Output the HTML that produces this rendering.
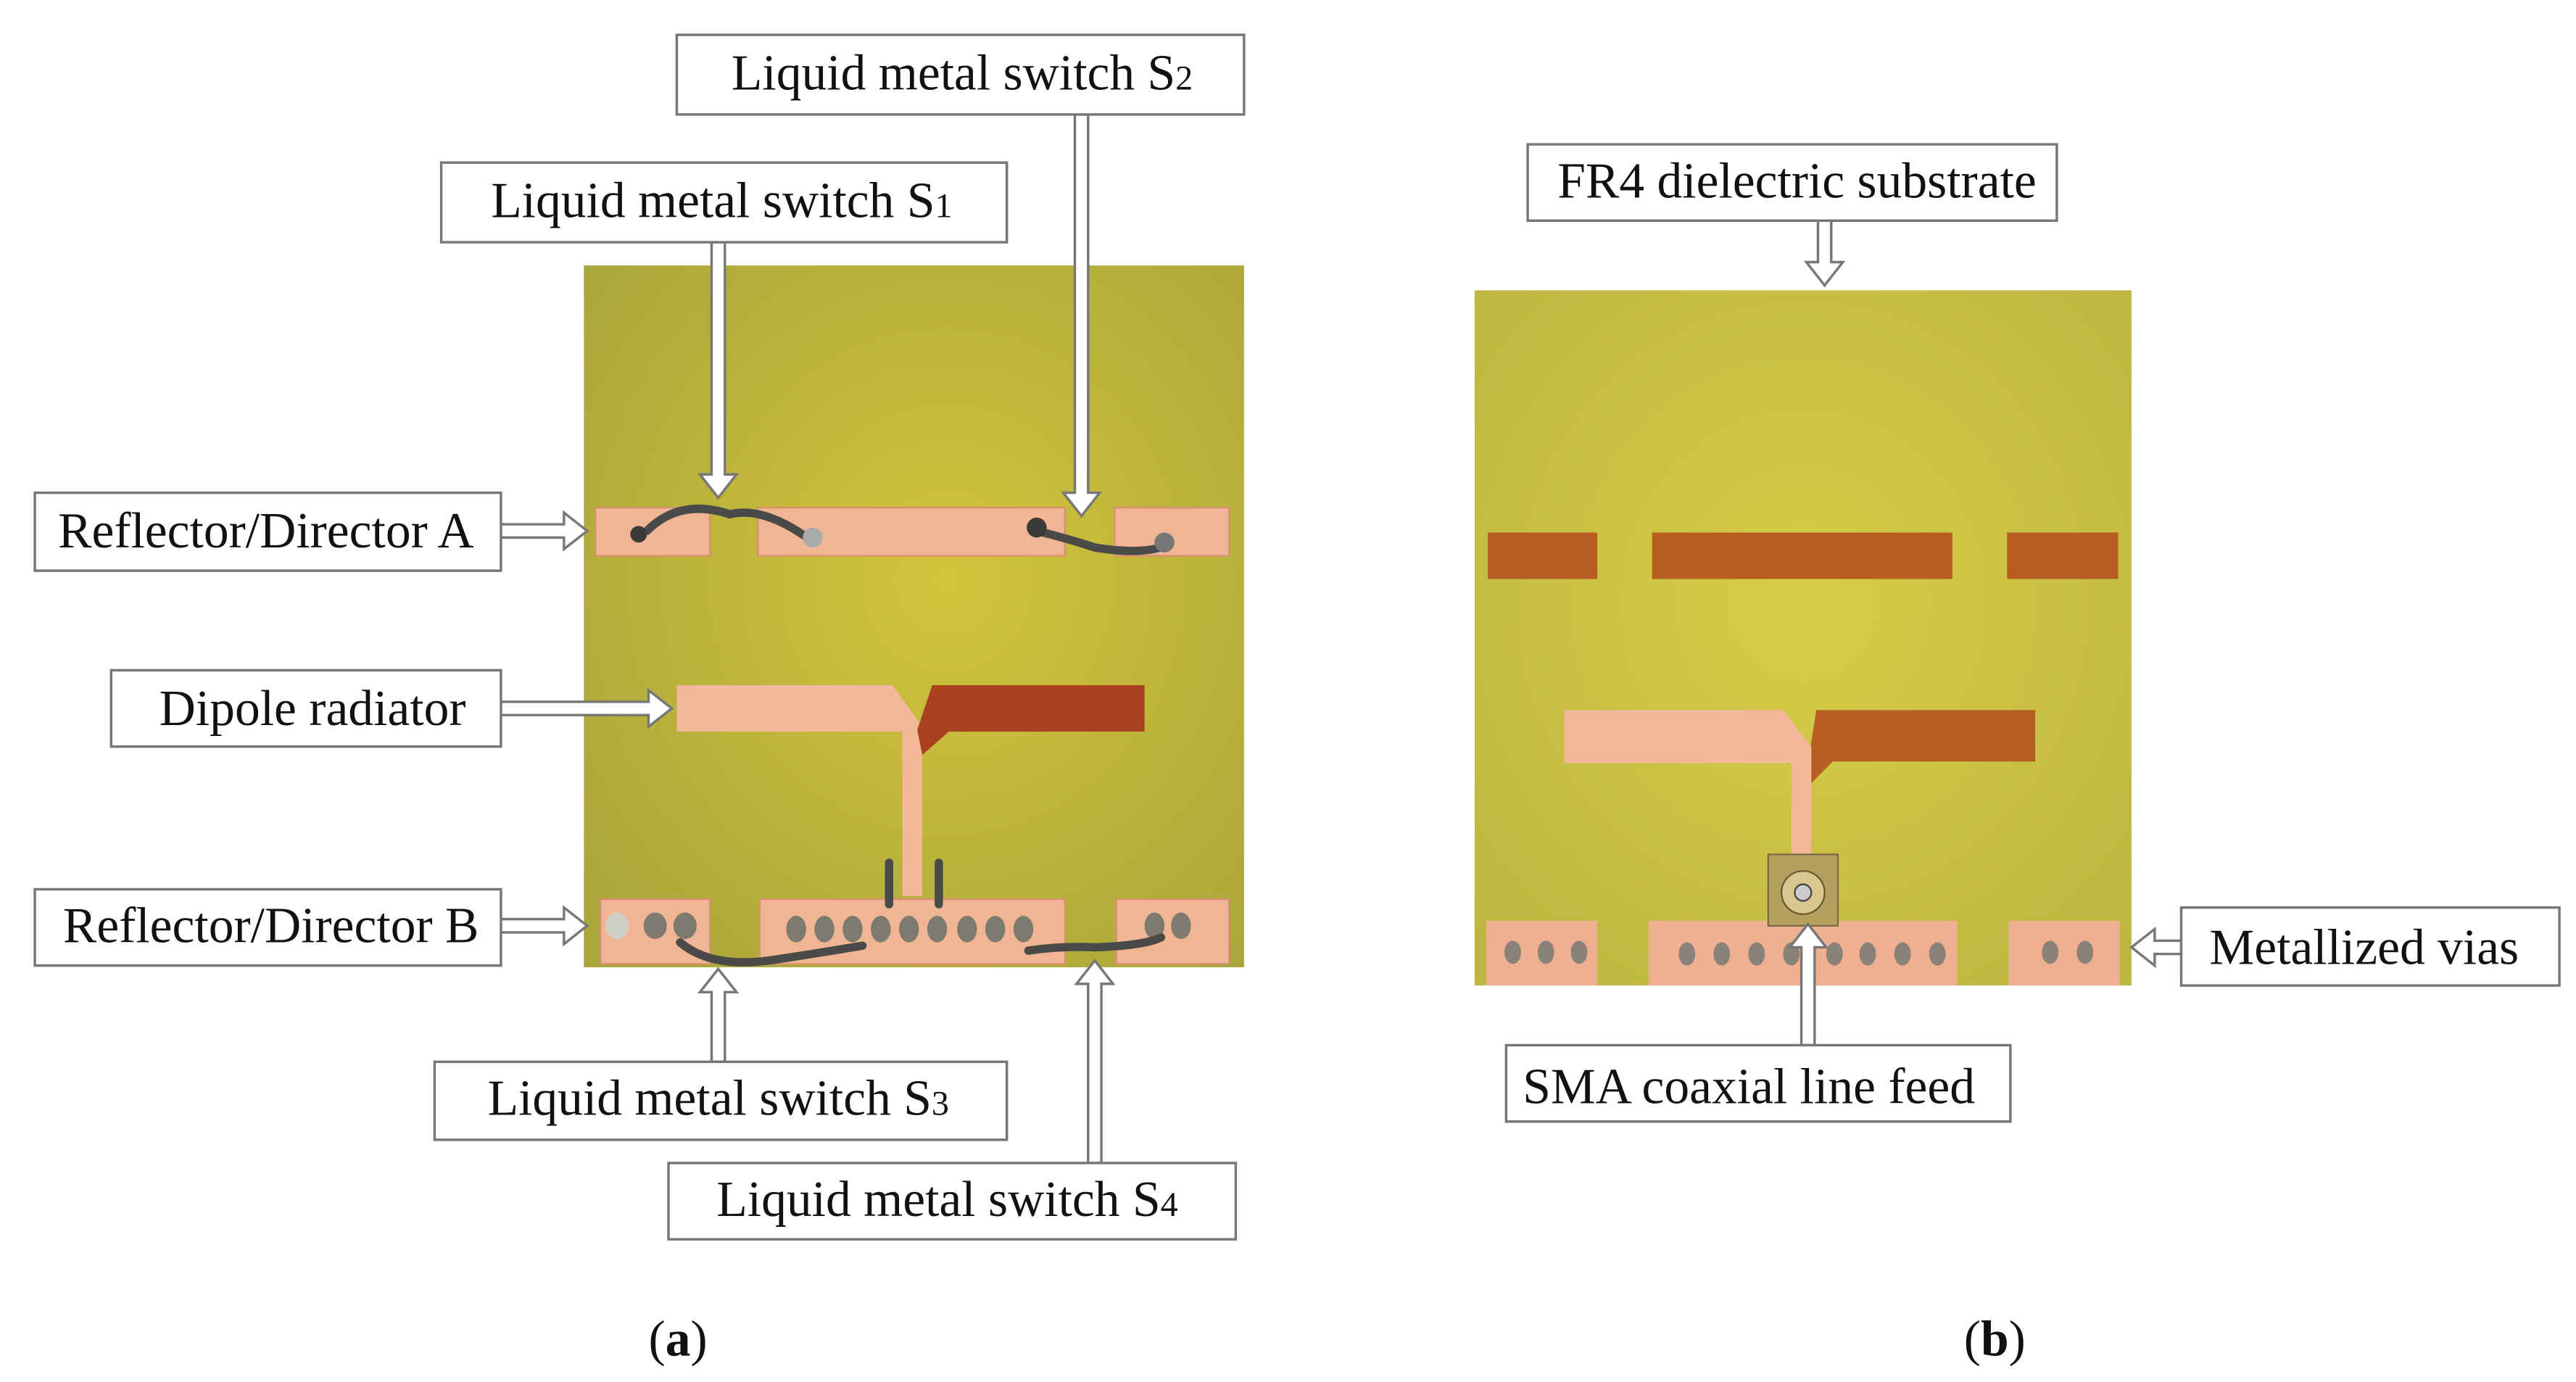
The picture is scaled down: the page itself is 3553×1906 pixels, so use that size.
<!DOCTYPE html>
<html><head><meta charset="utf-8"><style>
html,body{margin:0;padding:0;background:#fff;}
svg{display:block;}
text{font-family:"Liberation Serif",serif;fill:#111;}
</style></head><body>
<svg width="3553" height="1906" viewBox="0 0 1553 833" preserveAspectRatio="none" xmlns="http://www.w3.org/2000/svg">
<defs>
<radialGradient id="ga" cx="0.55" cy="0.45" r="0.7">
<stop offset="0" stop-color="#d3c43c"/><stop offset="1" stop-color="#aaa63a"/></radialGradient>
<radialGradient id="gb" cx="0.5" cy="0.45" r="0.7">
<stop offset="0" stop-color="#d8cd48"/><stop offset="1" stop-color="#bdb640"/></radialGradient>
</defs>
<rect x="352" y="160" width="398" height="423" fill="url(#ga)"/>
<g fill="#f0b694" stroke="#d99070" stroke-width="1">
<rect x="359" y="306" width="69" height="29"/>
<rect x="457" y="306" width="185" height="29"/>
<rect x="672" y="306" width="69" height="29"/>
<rect x="362" y="542" width="66" height="39"/>
<rect x="458" y="542" width="184" height="39"/>
<rect x="673" y="542" width="68" height="39"/>
</g>
<path d="M408,413 L538,413 L556,438 L556,540 L544,540 L544,441 L408,441 Z" fill="#f3b89a"/>
<path d="M562,413 L690,413 L690,441 L572,441 L556,455 L553,440 Z" fill="#a8421e"/>
<g fill="#7f7a70">
<ellipse cx="372" cy="558" rx="7" ry="8" fill="#cfcfc8"/><ellipse cx="395" cy="558" rx="7" ry="8"/><ellipse cx="413" cy="558" rx="7" ry="8"/>
<ellipse cx="480" cy="560" rx="6" ry="8"/><ellipse cx="497" cy="560" rx="6" ry="8"/><ellipse cx="514" cy="560" rx="6" ry="8"/><ellipse cx="531" cy="560" rx="6" ry="8"/><ellipse cx="548" cy="560" rx="6" ry="8"/><ellipse cx="565" cy="560" rx="6" ry="8"/><ellipse cx="583" cy="560" rx="6" ry="8"/><ellipse cx="600" cy="560" rx="6" ry="8"/><ellipse cx="617" cy="560" rx="6" ry="8"/>
<ellipse cx="696" cy="558" rx="6" ry="8"/><ellipse cx="712" cy="558" rx="6" ry="8"/>
</g>
<g fill="none" stroke="#4a4a48" stroke-width="5" stroke-linecap="round">
<path d="M390,320 Q410,300 440,310 Q460,305 488,325"/>
<path d="M625,320 Q645,325 660,330 Q690,335 705,328"/>
<path d="M410,568 Q430,585 470,578 Q490,575 520,570"/>
<path d="M620,573 Q640,570 660,571 Q690,570 700,565"/>
<path d="M536,520 L536,545 M566,520 L566,545"/>
</g>
<circle cx="385" cy="322" r="5" fill="#3a3a38"/><circle cx="490" cy="324" r="6" fill="#aaa"/>
<circle cx="625" cy="318" r="6" fill="#3a3a38"/><circle cx="702" cy="327" r="6" fill="#777"/>
<rect x="889" y="175" width="396" height="419" fill="url(#gb)"/>
<g fill="#b4521f" opacity="0.9">
<rect x="897" y="321" width="66" height="28"/><rect x="996" y="321" width="181" height="28"/><rect x="1210" y="321" width="67" height="28"/>
</g>
<path d="M1095,428 L1227,428 L1227,459 L1105,459 L1092,472 L1090,460 Z" fill="#b4521f" opacity="0.9"/>
<path d="M943,428 L1075,428 L1092,450 L1092,520 L1080,520 L1080,460 L943,460 Z" fill="#f3b89a"/>
<g fill="#eeb090">
<rect x="896" y="555" width="67" height="39"/><rect x="994" y="555" width="186" height="39"/><rect x="1211" y="555" width="67" height="39"/>
</g>
<g fill="#8a8278">
<ellipse cx="912" cy="574" rx="5" ry="7"/><ellipse cx="932" cy="574" rx="5" ry="7"/><ellipse cx="952" cy="574" rx="5" ry="7"/>
<ellipse cx="1017" cy="575" rx="5" ry="7"/><ellipse cx="1038" cy="575" rx="5" ry="7"/><ellipse cx="1059" cy="575" rx="5" ry="7"/><ellipse cx="1080" cy="575" rx="5" ry="7"/><ellipse cx="1106" cy="575" rx="5" ry="7"/><ellipse cx="1126" cy="575" rx="5" ry="7"/><ellipse cx="1147" cy="575" rx="5" ry="7"/><ellipse cx="1168" cy="575" rx="5" ry="7"/>
<ellipse cx="1236" cy="574" rx="5" ry="7"/><ellipse cx="1257" cy="574" rx="5" ry="7"/>
</g>
<rect x="1066" y="515" width="42" height="43" fill="#b5a060" stroke="#7a6a40"/>
<circle cx="1087" cy="538" r="13" fill="#d8c890" stroke="#6a5a30"/>
<circle cx="1087" cy="538" r="5" fill="#ccc" stroke="#444"/>
<g fill="#fff" stroke="#777" stroke-width="1.5">
<polygon points="429,146 437,146 437,286 444,286 433,300 422,286 429,286"/>
<polygon points="648,69 656,69 656,297 663,297 652,311 641,297 648,297"/>
<polygon points="1096,133 1104,133 1104,158 1111,158 1100,172 1089,158 1096,158"/>
<polygon points="429,640 437,640 437,598 444,598 433,584 422,598 429,598"/>
<polygon points="656,701 664,701 664,593 671,593 660,579 649,593 656,593"/>
<polygon points="1086,630 1094,630 1094,571 1101,571 1090,557 1079,571 1086,571"/>
<polygon points="302,316 302,324 340,324 340,331 354,320 340,309 340,316"/>
<polygon points="302,423 302,431 391,431 391,438 405,427 391,416 391,423"/>
<polygon points="302,554 302,562 340,562 340,569 354,558 340,547 340,554"/>
<polygon points="1315,567 1315,575 1299,575 1299,582 1285,571 1299,560 1299,567"/>
</g>
<g fill="#fff" stroke="#777" stroke-width="1.5">
<rect x="408" y="21" width="342" height="48"/>
<rect x="266" y="98" width="341" height="48"/>
<rect x="21" y="297" width="281" height="47"/>
<rect x="67" y="404" width="235" height="46"/>
<rect x="21" y="536" width="281" height="46"/>
<rect x="262" y="640" width="345" height="47"/>
<rect x="403" y="701" width="342" height="46"/>
<rect x="921" y="87" width="319" height="46"/>
<rect x="1315" y="547" width="228" height="47"/>
<rect x="908" y="630" width="304" height="46"/>
</g>
<g font-size="30.4">
<text x="441" y="54">Liquid metal switch S<tspan font-size="21">2</tspan></text>
<text x="296" y="131">Liquid metal switch S<tspan font-size="21">1</tspan></text>
<text x="35" y="330">Reflector/Director A</text>
<text x="96" y="437">Dipole radiator</text>
<text x="38" y="568">Reflector/Director B</text>
<text x="294" y="672">Liquid metal switch S<tspan font-size="21">3</tspan></text>
<text x="432" y="733">Liquid metal switch S<tspan font-size="21">4</tspan></text>
<text x="939" y="119">FR4 dielectric substrate</text>
<text x="1332" y="581">Metallized vias</text>
<text x="918" y="665">SMA coaxial line feed</text>
<text x="391" y="817">(<tspan font-weight="bold">a</tspan>)</text>
<text x="1184" y="817">(<tspan font-weight="bold">b</tspan>)</text>
</g>
</svg>
</body></html>
